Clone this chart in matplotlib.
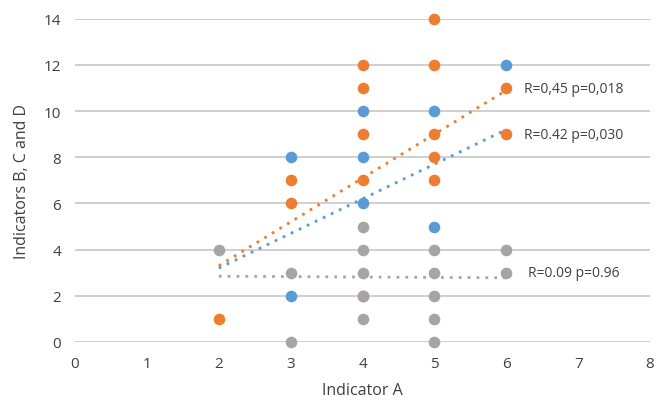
"""Scatter of indicators B, C and D against indicator A with dotted trend lines."""
import matplotlib.pyplot as plt

plt.rcParams["font.family"] = ["Open Sans", "DejaVu Sans"]

# Series B (blue)
blue_x = [3, 3, 4, 4, 4, 5, 5, 6]
blue_y = [2, 8, 6, 8, 10, 5, 10, 12]
# Series C (orange)
orange_x = [2, 3, 3, 4, 4, 4, 4, 4, 5, 5, 5, 5, 5, 6, 6]
orange_y = [1, 6, 7, 2, 7, 9, 11, 12, 7, 8, 9, 12, 14, 9, 11]
# Series D (grey)
grey_x = [2, 3, 3, 4, 4, 4, 4, 4, 5, 5, 5, 5, 5, 6, 6]
grey_y = [4, 0, 3, 1, 2, 3, 4, 5, 0, 1, 2, 3, 4, 3, 4]

# Trend lines: x range and fitted values at its ends
trend_x = [2, 6]
blue_trend = [3.2, 9.2]
orange_trend = [3.3, 10.9]
grey_trend = [2.85, 2.78]

labels = ["R=0,45 p=0,018", "R=0.42 p=0,030", "R=0.09 p=0.96"]
label_pos = [(6.25, 11.0), (6.25, 9.0), (6.3, 3.0)]

BLUE = "#5B9BD5"
ORANGE = "#ED7D31"
GREY = "#A5A5A5"

fig = plt.figure(figsize=(6.62, 4.06), dpi=100)
ax = fig.add_axes([0.1133, 0.1552, 0.8686, 0.796])

ax.plot(trend_x, blue_trend, color=BLUE, ls=(0, (1, 2.2)), lw=2, zorder=2)
ax.plot(trend_x, orange_trend, color=ORANGE, ls=(0, (1, 2.2)), lw=2, zorder=2)
ax.plot(trend_x, grey_trend, color=GREY, ls=(0, (1, 2.2)), lw=2, zorder=2)

ax.scatter(blue_x, blue_y, s=70, color=BLUE, zorder=3, linewidths=0, clip_on=False)
ax.scatter(orange_x, orange_y, s=70, color=ORANGE, zorder=3, linewidths=0, clip_on=False)
ax.scatter(grey_x, grey_y, s=70, color=GREY, zorder=3, linewidths=0, clip_on=False)

for text, (tx, ty) in zip(labels, label_pos):
    ax.text(tx, ty, text, fontsize=10, color="#404040", va="center", ha="left")

ax.set_xlim(0, 8)
ax.set_ylim(0, 14)
ax.set_xticks(range(0, 9))
ax.set_yticks(range(0, 15, 2))
ax.yaxis.grid(True, color="#CFCFCF", lw=1.4, zorder=0)
ax.set_axisbelow(True)
for side in ("top", "right", "left", "bottom"):
    ax.spines[side].set_visible(False)
ax.tick_params(length=0, labelsize=11, colors="#404040", pad=10)
ax.set_xlabel("Indicator A", fontsize=11.5, color="#404040", labelpad=8)
ax.set_ylabel("Indicators B, C and D", fontsize=11.5, color="#404040", labelpad=10)

fig.savefig("out.png", dpi=100)
